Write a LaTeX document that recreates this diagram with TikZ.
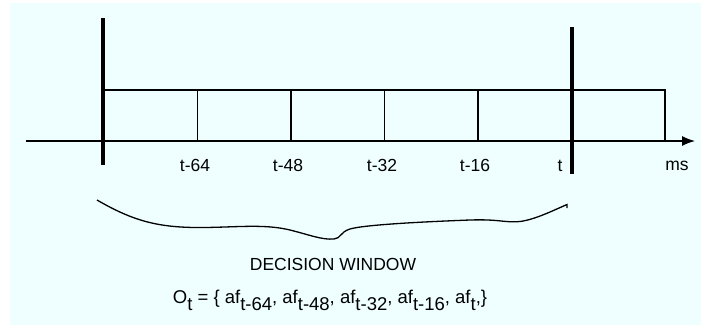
\documentclass[tikz,border=0pt]{standalone}
\usepackage{fontspec}
\setmainfont{Liberation Sans}
\usetikzlibrary{arrows.meta,positioning}
\definecolor{paleaqua}{HTML}{EFFFFF}
\newcommand{\lowidx}[1]{\raisebox{-7.5pt}{#1}}

\tikzset{
  cell/.style={draw, line width=1.2pt, minimum width=93.5pt, minimum height=51pt,
               inner sep=0pt, outer sep=0pt},
  lbl/.style={anchor=base, inner sep=0pt, font=\fontsize{17.5}{21}\selectfont},
  bar/.style={line width=3.6pt},
}

\begin{document}
\begin{tikzpicture}[x=1pt, y=-1pt]
  \useasboundingbox (0,0) rectangle (701,325);
  \fill[paleaqua] (10,3) rectangle (701,325);

  % time cells
  \node[cell] (cell1) at (150.75,115.5) {};
  \foreach \i [remember=\i as \j (initially 1)] in {2,...,6}
    \node[cell, right=0pt of cell\j] (cell\i) {};

  % time axis
  \coordinate (axl) at (26,141);
  \coordinate (axr) at (695,141);
  \draw[line width=1.2pt, -{Latex[length=13pt,width=10pt]}] (axl) -- (axr);

  % window borders
  \coordinate (wl1) at (103,18);
  \coordinate (wl2) at (103,165);
  \coordinate (wr1) at (572,27);
  \coordinate (wr2) at (572,174);
  \draw[bar] (wl1) -- (wl2);
  \draw[bar] (wr1) -- (wr2);

  % tick labels
  \node[lbl] (lab64) at (195,171) {t-64};
  \node[lbl] (lab48) at (288,171) {t-48};
  \node[lbl] (lab32) at (382,171) {t-32};
  \node[lbl] (lab16) at (475,171) {t-16};
  \node[lbl] (labt)  at (560,171) {t};
  \node[lbl] (labms) at (677,170) {ms};

  % brace under the window
  \draw[line width=1.3pt]
    (97,200) .. controls (135,222) and (160,228) .. (205,227.5)
    .. controls (240,227) and (265,224) .. (290,230)
    .. controls (310,235) and (322,240) .. (334,239)
    .. controls (341,238.5) and (340,232) .. (350,229)
    .. controls (365,224.5) and (430,221.5) .. (470,220)
    .. controls (500,219) and (505,223) .. (520,221.5)
    .. controls (535,219.5) and (552,211) .. (567,204.5) -- (567,208);

  \node[lbl] (title) at (333,270) {DECISION WINDOW};
  \node[lbl, font=\fontsize{18.5}{22}\selectfont] (obs) at (330,303)
    {O\lowidx{t} = \{ af\lowidx{t-64}, af\lowidx{t-48},
    af\lowidx{t-32}, af\lowidx{t-16}, af\lowidx{t},\}};
\end{tikzpicture}
\end{document}
